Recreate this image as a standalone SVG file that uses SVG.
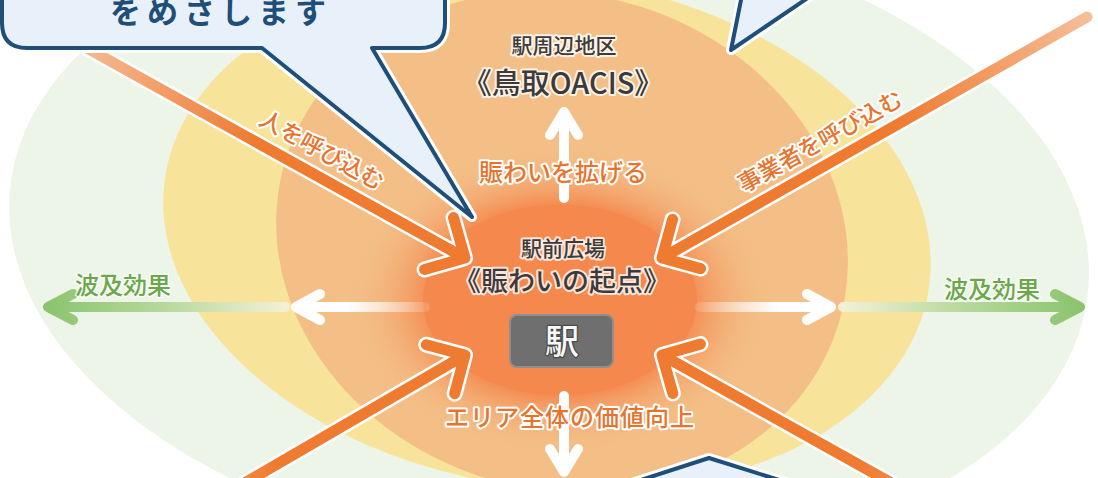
<svg xmlns="http://www.w3.org/2000/svg" width="1098" height="478" viewBox="0 0 1098 478">
<style>
.ja{font-family:"Noto Sans CJK JP","Noto Sans",sans-serif}
.halo{fill:none;stroke:#fff;stroke-width:16;stroke-linecap:round;stroke-linejoin:round}
.oa{fill:none;stroke-width:11;stroke-linecap:round;stroke-linejoin:round}
.wa{fill:none;stroke-width:10;stroke-linecap:round;stroke-linejoin:round}
.dark{fill:#3b3b3b;stroke:#fff;stroke-width:4;stroke-opacity:0.8;paint-order:stroke;stroke-linejoin:round;font-weight:500}
.org{fill:#E8732C;stroke:#fff;stroke-width:4;paint-order:stroke;stroke-linejoin:round;font-weight:500}
.grn{fill:#6AA84A;stroke:#fff;stroke-width:3;stroke-opacity:0.7;paint-order:stroke;font-weight:500}
.call{fill:#E8F1FA;stroke:#1F4E79;stroke-width:4;stroke-linejoin:round}
.callhalo{fill:none;stroke:#fff;stroke-width:10;stroke-linejoin:round}
</style>
<defs>
<radialGradient id="glow" cx="560" cy="300" r="1" gradientUnits="userSpaceOnUse" gradientTransform="translate(560 300) scale(215 155) translate(-560 -300)">
<stop offset="0.6" stop-color="#F4894F"/>
<stop offset="1" stop-color="#F3BF87" stop-opacity="0"/>
</radialGradient>
<linearGradient id="g1" gradientUnits="userSpaceOnUse" x1="85" y1="47" x2="465" y2="258"><stop offset="0" stop-color="#F5B993"/><stop offset="0.45" stop-color="#EE7B30"/><stop offset="1" stop-color="#EE7B30"/></linearGradient>
<linearGradient id="g2" gradientUnits="userSpaceOnUse" x1="1087" y1="17" x2="662" y2="258"><stop offset="0" stop-color="#F5BE98"/><stop offset="0.45" stop-color="#EE7B30"/><stop offset="1" stop-color="#EE7B30"/></linearGradient>
<linearGradient id="g3" gradientUnits="userSpaceOnUse" x1="150" y1="538" x2="465" y2="355"><stop offset="0" stop-color="#F3B080"/><stop offset="0.4" stop-color="#EE7B30"/><stop offset="1" stop-color="#EE7B30"/></linearGradient>
<linearGradient id="g4" gradientUnits="userSpaceOnUse" x1="990" y1="538" x2="662" y2="355"><stop offset="0" stop-color="#F3B080"/><stop offset="0.4" stop-color="#EE7B30"/><stop offset="1" stop-color="#EE7B30"/></linearGradient>
<linearGradient id="wl" gradientUnits="userSpaceOnUse" x1="296" y1="0" x2="425" y2="0"><stop offset="0.4" stop-color="#fff"/><stop offset="1" stop-color="#fff" stop-opacity="0.15"/></linearGradient>
<linearGradient id="wr" gradientUnits="userSpaceOnUse" x1="831" y1="0" x2="700" y2="0"><stop offset="0.4" stop-color="#fff"/><stop offset="1" stop-color="#fff" stop-opacity="0.15"/></linearGradient>
<linearGradient id="gl" gradientUnits="userSpaceOnUse" x1="48" y1="0" x2="285" y2="0"><stop offset="0" stop-color="#8CC46E"/><stop offset="0.5" stop-color="#B7D99C"/><stop offset="1" stop-color="#F3F0D6"/></linearGradient>
<linearGradient id="gr" gradientUnits="userSpaceOnUse" x1="1080" y1="0" x2="843" y2="0"><stop offset="0" stop-color="#8CC46E"/><stop offset="0.5" stop-color="#B7D99C"/><stop offset="1" stop-color="#F3F0D6"/></linearGradient>
</defs>
<rect width="1098" height="478" fill="#fff"/>
<g id="zones">
<ellipse cx="0" cy="0" rx="537" ry="321" fill="#EDF4E8" transform="translate(549 240) skewX(9.8)"/>
<ellipse cx="0" cy="0" rx="381" ry="258" fill="#F8E39B" transform="translate(547 233) skewX(10)"/>
<ellipse cx="0" cy="0" rx="285" ry="251" fill="#F3BF87" transform="translate(562 242) skewX(5)"/>
<ellipse cx="560" cy="300" rx="215" ry="155" fill="url(#glow)"/>
<ellipse cx="560" cy="300" rx="137" ry="95" fill="#F4884D"/>
</g>
<g id="connectors">
<path class="halo" d="M85,47 L465,258 M453.5,217.6 L465,258 L424.6,269.5"/>
<path class="halo" d="M1087,17 L662,258 M700.6,268.6 L662,258 L672.6,219.4"/>
<path class="halo" d="M150,538 L465,355 M426.3,344.7 L465,355 L454.7,393.7"/>
<path class="halo" d="M990,538 L662,355 M672.9,393.4 L662,355 L700.4,344.1"/>
<path class="oa" stroke="url(#g1)" d="M85,47 L465,258 M453.5,217.6 L465,258 L424.6,269.5"/>
<path class="oa" stroke="url(#g2)" d="M1087,17 L662,258 M700.6,268.6 L662,258 L672.6,219.4"/>
<path class="oa" stroke="url(#g3)" d="M150,538 L465,355 M426.3,344.7 L465,355 L454.7,393.7"/>
<path class="oa" stroke="url(#g4)" d="M990,538 L662,355 M672.9,393.4 L662,355 L700.4,344.1"/>
<path class="wa" stroke="#fff" d="M564,198 L564,112 M550,135 L564,112 L578,135"/>
<path class="wa" stroke="#fff" d="M564,396 L564,472 M550,449 L564,472 L578,449"/>
<path class="wa" stroke="url(#wl)" d="M425,307 L296,307 M320,294 L296,307 L320,320"/>
<path class="wa" stroke="url(#wr)" d="M700,307 L831,307 M807,294 L831,307 L807,320"/>
<path class="wa" stroke="url(#gl)" d="M285,307 L48,307 M73,294 L48,307 L73,320"/>
<path class="wa" stroke="url(#gr)" d="M843,307 L1080,307 M1055,294 L1080,307 L1055,320"/>
</g>
<g id="area" class="ja">
<text class="dark" x="564" y="53" font-size="21" text-anchor="middle">駅周辺地区</text>
<text class="dark" x="563" y="94" font-size="29" text-anchor="middle">《鳥取OACIS》</text>
</g>
<g id="spread" class="ja">
<text class="org" x="563" y="181" font-size="24" text-anchor="middle">賑わいを拡げる</text>
</g>
<g id="plaza" class="ja">
<text class="dark" x="563" y="256" font-size="21" text-anchor="middle">駅前広場</text>
<text class="dark" x="562" y="291" font-size="27" text-anchor="middle">《賑わいの起点》</text>
</g>
<g id="station" class="ja">
<rect x="510" y="315" width="103" height="52" rx="7" fill="#6F6F6F" stroke="#8E8E8E" stroke-width="2"/>
<text x="562" y="354" font-size="34" font-weight="500" text-anchor="middle" fill="#F7F7F7" stroke="#4a4a4a" stroke-width="2.5" paint-order="stroke" stroke-linejoin="round">駅</text>
</g>
<g id="value" class="ja">
<text class="org" x="570" y="426" font-size="24" text-anchor="middle" letter-spacing="1">エリア全体の価値向上</text>
</g>
<g id="people" class="ja">
<text class="org" x="322" y="158.5" font-size="23" text-anchor="middle" transform="rotate(29 322 150)">人を呼び込む</text>
</g>
<g id="business" class="ja">
<text class="org" x="820" y="149.5" font-size="23" text-anchor="middle" transform="rotate(-29 820 141)">事業者を呼び込む</text>
</g>
<g id="ripple-left" class="ja">
<text class="grn" x="75" y="294" font-size="24">波及効果</text>
</g>
<g id="ripple-right" class="ja">
<text class="grn" x="944" y="298" font-size="24">波及効果</text>
</g>
<g id="callout-left">
<path class="callhalo" d="M2,-60 V23 Q2,48 27,48 H262 L472,217 L372,48 H420 Q445,48 445,23 V-60 Z"/>
<path class="call" d="M2,-60 V23 Q2,48 27,48 H262 L472,217 L372,48 H420 Q445,48 445,23 V-60 Z"/>
<text class="ja" x="110" y="23" font-size="31" font-weight="700" fill="#1F4E79" letter-spacing="6">をめさします</text>
</g>
<g id="callout-top">
<path class="callhalo" d="M747,-30 L731,50 L849,-30 Z"/>
<path class="call" d="M747,-30 L731,50 L849,-30 Z"/>
</g>
<g id="callout-bottom">
<path class="callhalo" d="M579,500 L709,458 L843,500 Z"/>
<path class="call" d="M579,500 L709,458 L843,500 Z"/>
</g>
</svg>
